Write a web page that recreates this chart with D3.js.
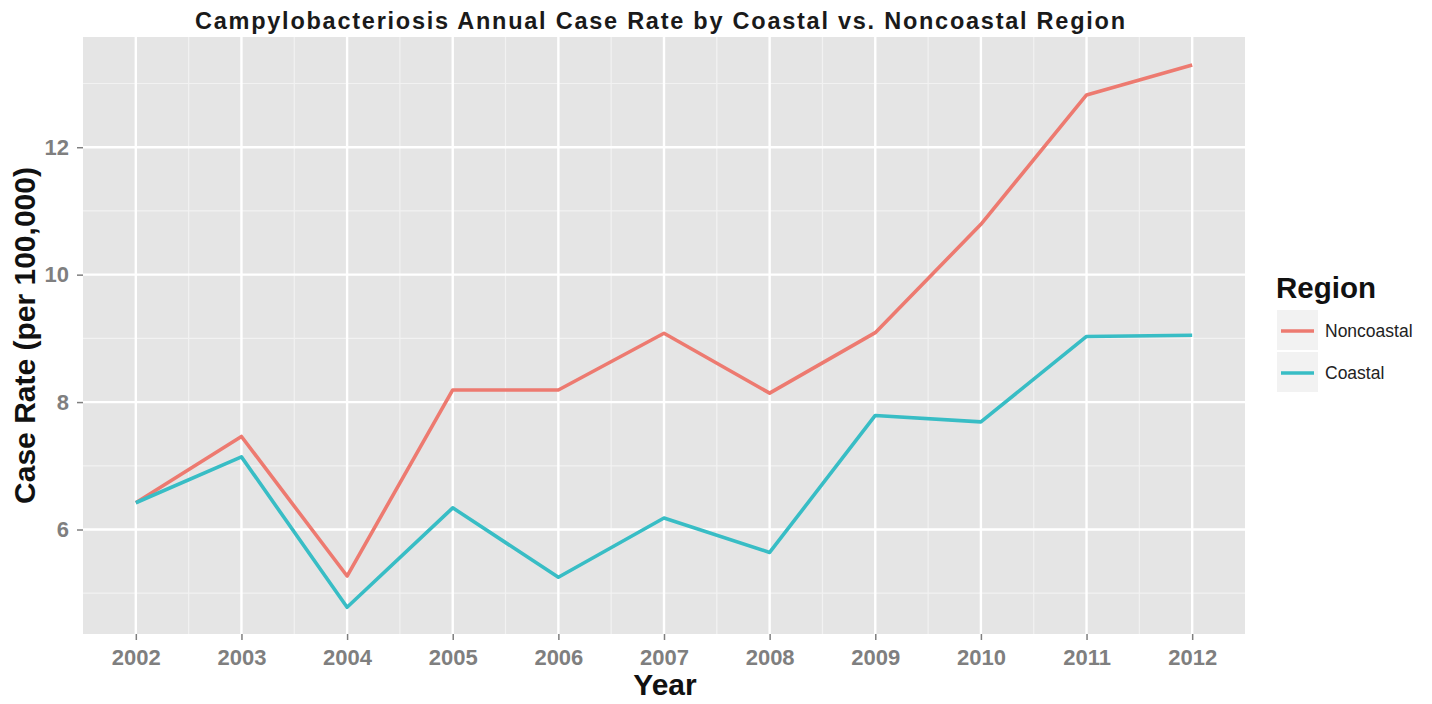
<!DOCTYPE html>
<html>
<head>
<meta charset="utf-8">
<script src="https://cdn.jsdelivr.net/npm/d3@7"></script>
<style>
  body { margin: 0; background: #fff; }
  text { font-family: "Liberation Sans", Arial, sans-serif; }
</style>
</head>
<body>
<svg id="chart" width="1432" height="704"></svg>
<script>
// values
const years = [2002, 2003, 2004, 2005, 2006, 2007, 2008, 2009, 2010, 2011, 2012];
const noncoastal = [6.42, 7.46, 5.27, 8.19, 8.19, 9.08, 8.14, 9.09, 10.79, 12.82, 13.29];
const coastal = [6.42, 7.14, 4.78, 6.34, 5.25, 6.18, 5.64, 7.79, 7.69, 9.03, 9.05];
const yTicks = [6, 8, 10, 12];
const yMinor = [5, 7, 9, 11, 13];
const seriesNames = ["Noncoastal", "Coastal"];
const seriesColors = ["#ED7A70", "#38BDC5"];

const svg = d3.select("#chart");
const panel = {left: 83, right: 1245, top: 37, bottom: 634};

const x = d3.scaleLinear()
  .domain([2001.5, 2012.5])
  .range([panel.left, panel.right]);

const y = d3.scaleLinear()
  .domain([4.36, 13.73])
  .range([panel.bottom, panel.top]);

// panel background
svg.append("rect")
  .attr("x", panel.left)
  .attr("y", panel.top)
  .attr("width", panel.right - panel.left)
  .attr("height", panel.bottom - panel.top)
  .attr("fill", "#E5E5E5");

const grid = svg.append("g");

// minor grid
grid.selectAll(".ymin")
  .data(yMinor)
  .enter()
  .append("line")
  .attr("x1", panel.left).attr("x2", panel.right)
  .attr("y1", d => y(d)).attr("y2", d => y(d))
  .attr("stroke", "#F2F2F2").attr("stroke-width", 1.2);

grid.selectAll(".xmin")
  .data(years.slice(1).map(d => d - 0.5))
  .enter()
  .append("line")
  .attr("y1", panel.top).attr("y2", panel.bottom)
  .attr("x1", d => x(d)).attr("x2", d => x(d))
  .attr("stroke", "#F2F2F2").attr("stroke-width", 1.2);

// major grid
grid.selectAll(".ymaj")
  .data(yTicks)
  .enter()
  .append("line")
  .attr("x1", panel.left).attr("x2", panel.right)
  .attr("y1", d => y(d)).attr("y2", d => y(d))
  .attr("stroke", "#fff").attr("stroke-width", 2.4);

grid.selectAll(".xmaj")
  .data(years)
  .enter()
  .append("line")
  .attr("y1", panel.top).attr("y2", panel.bottom)
  .attr("x1", d => x(d)).attr("x2", d => x(d))
  .attr("stroke", "#fff").attr("stroke-width", 2.4);

// axes
const xAxis = svg.append("g")
  .attr("transform", `translate(0,${panel.bottom})`)
  .call(d3.axisBottom(x).tickValues(years).tickFormat(d3.format("d")).tickSize(6).tickPadding(9));

const yAxis = svg.append("g")
  .attr("transform", `translate(${panel.left},0)`)
  .call(d3.axisLeft(y).tickValues(yTicks).tickSize(6).tickPadding(8));

[xAxis, yAxis].forEach(ax => {
  ax.select(".domain").remove();
  ax.selectAll(".tick line").attr("stroke", "#7F7F7F").attr("stroke-width", 1.5);
  ax.selectAll(".tick text")
    .attr("fill", "#7F7F7F")
    .style("font-size", "22px")
    .style("font-weight", "bold");
});

// lines
const line = d3.line()
  .x((d, i) => x(years[i]))
  .y(d => y(d));

[noncoastal, coastal].forEach((s, k) => {
  svg.append("path")
    .datum(s)
    .attr("fill", "none")
    .attr("stroke", seriesColors[k])
    .attr("stroke-width", 3.6)
    .attr("stroke-linejoin", "round")
    .attr("d", line);
});

// titles
svg.append("text")
  .attr("x", 195)
  .attr("y", 29)
  .attr("textLength", 930)
  .attr("lengthAdjust", "spacing")
  .style("font-size", "23.5px")
  .style("font-weight", "bold")
  .attr("fill", "#1a1a1a")
  .text("Campylobacteriosis Annual Case Rate by Coastal vs. Noncoastal Region");

svg.append("text")
  .attr("x", 665)
  .attr("y", 695)
  .attr("text-anchor", "middle")
  .style("font-size", "30px")
  .style("font-weight", "bold")
  .attr("fill", "#111")
  .text("Year");

svg.append("text")
  .attr("transform", `translate(35,${(panel.top + panel.bottom) / 2}) rotate(-90)`)
  .attr("text-anchor", "middle")
  .style("font-size", "30px")
  .style("font-weight", "bold")
  .attr("fill", "#111")
  .text("Case Rate (per 100,000)");

// legend
const legend = svg.append("g").attr("transform", "translate(1276,0)");

legend.append("text")
  .attr("x", 0)
  .attr("y", 298)
  .style("font-size", "29.5px")
  .style("font-weight", "bold")
  .attr("fill", "#111")
  .text("Region");

const keys = legend.selectAll(".key")
  .data(seriesNames)
  .enter()
  .append("g")
  .attr("transform", (d, i) => `translate(1,${310 + i * 42})`);

keys.append("rect")
  .attr("width", 41).attr("height", 40)
  .attr("fill", "#F2F2F2");

keys.append("line")
  .attr("x1", 4).attr("x2", 37)
  .attr("y1", 21).attr("y2", 21)
  .attr("stroke", (d, i) => seriesColors[i])
  .attr("stroke-width", 3.6);

keys.append("text")
  .attr("x", 48)
  .attr("y", 27)
  .style("font-size", "17.5px")
  .attr("fill", "#222")
  .text(d => d);
</script>
</body>
</html>
